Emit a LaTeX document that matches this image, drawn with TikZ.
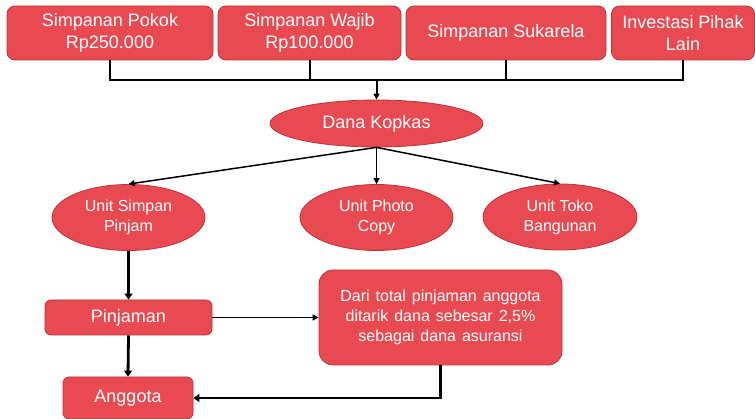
\documentclass[tikz,border=0pt]{standalone}
\usepackage{fontspec}
\setmainfont{Liberation Sans}
\usetikzlibrary{shapes.geometric,arrows.meta}
\definecolor{boxred}{RGB}{233,73,80}
\definecolor{boxedge}{RGB}{185,52,58}
\newcommand\mywidespace{\spaceskip=6pt plus 1pt\relax}
\tikzset{
  rbox/.style={draw=boxedge, line width=0.8pt, fill=boxred, text=white, rounded corners=8pt,
    inner sep=0pt, align=center, font=\fontsize{18}{22}\selectfont},
  ell/.style={ellipse, draw=boxedge, line width=0.8pt, fill=boxred, text=white,
    inner sep=0pt, align=center, font=\fontsize{16}{20}\selectfont},
  conn/.style={draw=black, line width=2pt},
  thinarr/.style={draw=black, line width=1.5pt, -{Triangle[length=6pt,width=6pt]}},
  thickarr/.style={draw=black, line width=2.8pt, -{Triangle[length=6pt,width=8pt]}},
}
\begin{document}
\begin{tikzpicture}[x=1pt,y=-1pt]
\useasboundingbox (0,0) rectangle (755,419);
\clip (0,0) rectangle (755,419);
% top boxes
\node[rbox, minimum width=206pt, minimum height=54pt] (b1) at (110,33) {Simpanan Pokok\\Rp250.000};
\node[rbox, minimum width=183pt, minimum height=54pt] (b2) at (309.5,33) {Simpanan Wajib\\Rp100.000};
\node[rbox, minimum width=200pt, minimum height=54pt] (b3) at (506,33) {Simpanan Sukarela};
\node[rbox, minimum width=143pt, minimum height=54pt] (b4) at (683,33) {Investasi Pihak\\Lain};
\coordinate (hy) at (0,80);
% Dana Kopkas
\node[ell, minimum width=213pt, minimum height=47pt, font=\fontsize{18}{22}\selectfont] (dana) at (376.5,123.5) {Dana Kopkas};
% units
\node[ell, minimum width=153pt, minimum height=66pt] (e1) at (128.5,217.5) {Unit Simpan\\Pinjam};
\node[ell, minimum width=153pt, minimum height=66pt] (e2) at (376.5,217.5) {Unit Photo\\Copy};
\node[ell, minimum width=154pt, minimum height=66pt] (e3) at (560,217) {Unit Toko\\Bangunan};
% bottom
\node[rbox, rounded corners=6pt, minimum width=167pt, minimum height=35pt] (p) at (128.5,317.5) {Pinjaman};
\node[rbox, rounded corners=14pt, minimum width=243pt, minimum height=95pt, font={\fontsize{16}{20}\selectfont\mywidespace}] (d) at (440.5,317.5) {Dari total pinjaman anggota\\ditarik dana sebesar 2,5\%\\sebagai dana asuransi};
\node[rbox, rounded corners=6pt, minimum width=130pt, minimum height=42pt] (a) at (128,398) {Anggota};
% connectors top
\draw[conn] (b1.south) |- (b4.south |- hy) -- (b4.south);
\draw[conn] (b2.south) -- (b2.south |- hy);
\draw[conn] (b3.south) -- (b3.south |- hy);
\draw[thinarr, line width=2pt] (dana.north |- hy) -- (dana.north);
% dana to units
\draw[thinarr] (dana.south) -- (e1.north);
\draw[thinarr] (dana.south) -- (e2.north);
\draw[thinarr] (dana.south) -- (e3.north);
% lower flow
\draw[thickarr] (e1.south) -- (p.north);
\draw[thickarr] (p.south) -- (a.north);
\draw[thinarr] (p.east) -- (d.west);
\draw[thickarr] (d.south) |- (a.east);
\end{tikzpicture}
\end{document}
